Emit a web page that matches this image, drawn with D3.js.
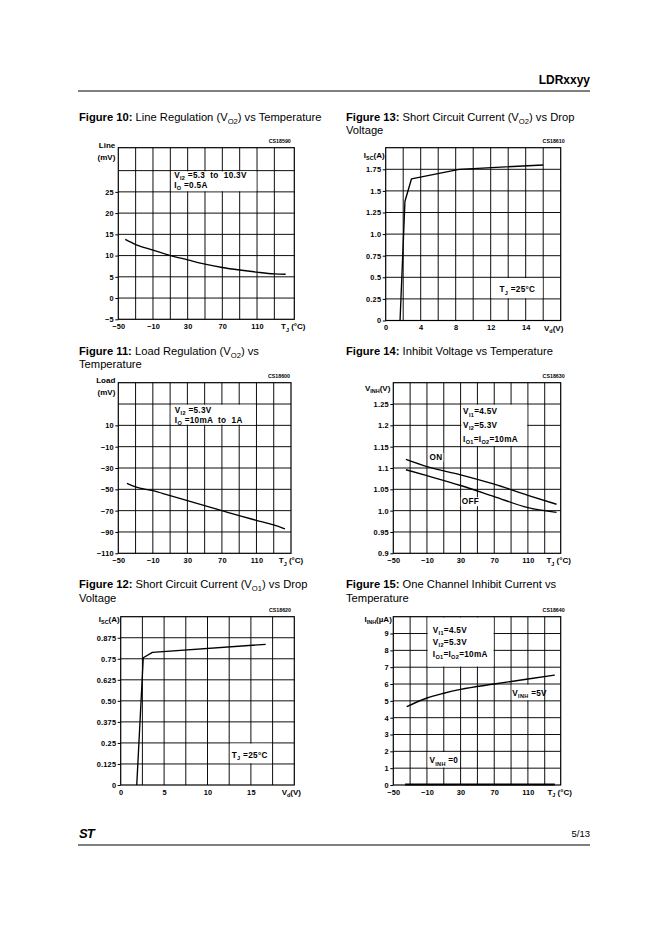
<!DOCTYPE html>
<html>
<head>
<meta charset="utf-8">
<script src="https://cdn.jsdelivr.net/npm/d3@7.9.0/dist/d3.min.js"></script>
<style>
  body { margin: 0; background: #fff; }
  svg text { font-family: "Liberation Sans", Arial, Helvetica, sans-serif; fill: #000; white-space: pre; }
</style>
</head>
<body>
<svg id="page" width="662" height="936"></svg>
<script>
// ---------------------------------------------------------
// Data
// ---------------------------------------------------------
const tempTicks = [-50, -10, 30, 70, 110];
const tempLabels = ["\u221250", "\u221210", "30", "70", "110"];

// Figure 10: line regulation (mV) vs Tj
const fig10Temp = [-42, -30, -10, 10, 30, 50, 70, 90, 110, 130, 143];
const fig10Line = [13.8, 12.6, 11.3, 10.0, 9.0, 8.0, 7.2, 6.6, 6.1, 5.7, 5.6];
const fig10YTicks = [-5, 0, 5, 10, 15, 20, 25];
const fig10YLabels = ["\u22125", "0", "5", "10", "15", "20", "25"];

// Figure 11: load regulation (mV) vs Tj
const fig11Temp = [-40, -30, -10, 10, 30, 50, 70, 90, 110, 130, 143];
const fig11Load = [-44.4, -47.8, -51.3, -56.0, -60.6, -65.3, -70.0, -74.7, -79.1, -83.4, -87.2];
const fig11YTicks = [-110, -90, -70, -50, -30, -10, 10];
const fig11YLabels = ["\u2212110", "\u221290", "\u221270", "\u221250", "\u221230", "\u221210", "10"];

// Figure 12: short circuit current VO1 vs drop voltage
const fig12Vd = [1.85, 2.6, 3.65, 16.7];
const fig12Isc = [0, 0.756, 0.788, 0.836];
const fig12XTicks = [0, 5, 10, 15];
const fig12XLabels = ["0", "5", "10", "15"];
const fig12YTicks = [0, 0.125, 0.25, 0.375, 0.5, 0.625, 0.75, 0.875];
const fig12YLabels = ["0", "0.125", "0.25", "0.375", "0.50", "0.625", "0.75", "0.875"];

// Figure 13: short circuit current VO2 vs drop voltage
const fig13Vd = [1.64, 2.2, 2.95, 8.4, 18];
const fig13Isc = [0, 1.38, 1.64, 1.75, 1.8];
const fig13XTicks = [0, 4, 8, 12, 16];
const fig13XLabels = ["0", "4", "8", "12", "14"];
const fig13YTicks = [0, 0.25, 0.5, 0.75, 1.0, 1.25, 1.5, 1.75];
const fig13YLabels = ["0", "0.25", "0.5", "0.75", "1.0", "1.25", "1.5", "1.75"];

// Figure 14: inhibit voltage vs Tj
const fig14Temp = [-35, -10, 30, 70, 110, 144];
const fig14On = [1.12, 1.103, 1.084, 1.062, 1.036, 1.015];
const fig14Off = [1.096, 1.082, 1.059, 1.033, 1.007, 0.996];
const fig14YTicks = [0.9, 0.95, 1.0, 1.05, 1.1, 1.15, 1.2, 1.25];
const fig14YLabels = ["0.9", "0.95", "1.0", "1.05", "1.1", "1.15", "1.2", "1.25"];

// Figure 15: one channel inhibit current vs Tj
const fig15Temp = [-34, -10, 10, 30, 70, 110, 142];
const fig15Iinh5V = [4.65, 5.17, 5.45, 5.68, 6.0, 6.3, 6.53];
const fig15Temp0 = [-36, 142];
const fig15Iinh0V = [0.03, 0.03];
const fig15YTicks = [0, 1, 2, 3, 4, 5, 6, 7, 8, 9];
const fig15YLabels = ["0", "1", "2", "3", "4", "5", "6", "7", "8", "9"];

// ---------------------------------------------------------
// Helpers
// ---------------------------------------------------------
const svg = d3.select('#page');
const TICK_FS = 7.4;
const NOTE_FS = 8.2;
const UNIT_FS = 8;
const TITLE_FS = 11.2;

// "V_{I2} =5.3V" -> tspans with subscripts
function rich(sel, str, fs) {
  const parts = str.split(/(_\{[^}]*\})/);
  let down = false;
  parts.forEach(p => {
    if (!p) return;
    if (p.startsWith('_{')) {
      sel.append('tspan').attr('dy', fs * 0.28).attr('font-size', fs * 0.68).text(p.slice(2, -1));
      down = true;
    } else {
      const t = sel.append('tspan').text(p);
      if (down) { t.attr('dy', -fs * 0.28); down = false; }
    }
  });
  return sel;
}

function title(x, y, bold, lines) {
  const t = svg.append('text').attr('x', x).attr('y', y).attr('font-size', TITLE_FS);
  t.append('tspan').attr('font-weight', 'bold').text(bold);
  rich(t, lines[0], TITLE_FS);
  lines.slice(1).forEach((l, i) => {
    rich(svg.append('text').attr('x', x).attr('y', y + 13.5 * (i + 1)).attr('font-size', TITLE_FS), l, TITLE_FS);
  });
}

// ---------------------------------------------------------
// One chart
// ---------------------------------------------------------
function drawChart(c) {
  const [x0, x1, y0, y1] = c.frame;
  const x = d3.scaleLinear().domain(c.xDomain).range([x0, x1]);
  const y = d3.scaleLinear().domain(c.yDomain).range([y1, y0]);
  const g = svg.append('g');

  // grid
  const gx = d3.range(c.xGrid[0], c.xGrid[1] + 1e-6, c.xGrid[2]);
  const gy = d3.range(c.yGrid[0], c.yGrid[1] + 1e-6, c.yGrid[2]);
  g.append('g').selectAll('line').data(gx).join('line')
    .attr('x1', d => x(d)).attr('x2', d => x(d)).attr('y1', y0).attr('y2', y1)
    .attr('stroke', '#000').attr('stroke-width', 0.95);
  g.append('g').selectAll('line').data(gy).join('line')
    .attr('y1', d => y(d)).attr('y2', d => y(d)).attr('x1', x0).attr('x2', x1)
    .attr('stroke', '#000').attr('stroke-width', 0.95);

  // white boxes behind the notes
  c.notes.filter(n => n.box).forEach(n => {
    const [a, b, lo, hi] = n.box;
    g.append('rect')
      .attr('x', x(a) + 0.7).attr('y', y(hi) + 0.7)
      .attr('width', x(b) - x(a) - 1.4).attr('height', y(lo) - y(hi) - 1.4)
      .attr('fill', '#fff');
  });

  g.append('rect').attr('x', x0).attr('y', y0).attr('width', x1 - x0).attr('height', y1 - y0)
    .attr('fill', 'none').attr('stroke', '#000').attr('stroke-width', 1.2);

  // axes
  const ya = g.append('g').attr('transform', `translate(${x0},0)`)
    .call(d3.axisLeft(y).tickValues(c.yTicks).tickFormat((d, i) => c.yLabels[i]).tickSize(3).tickPadding(1.5));
  const xa = g.append('g').attr('transform', `translate(0,${y1})`)
    .call(d3.axisBottom(x).tickValues(c.xTicks).tickFormat((d, i) => c.xLabels[i]).tickSize(0).tickPadding(4.5));
  [ya, xa].forEach(a => {
    a.select('.domain').remove();
    a.selectAll('line').attr('stroke', '#000');
    a.selectAll('text').attr('font-size', TICK_FS).attr('font-weight', 'bold')
      .attr('letter-spacing', 0.2)
      .attr('font-family', '"Liberation Sans", Arial, sans-serif').attr('fill', '#000');
  });

  // unit labels
  rich(g.append('text').attr('x', x1 + c.xUnit.dx).attr('y', y1 + 10)
    .attr('text-anchor', 'middle').attr('font-size', UNIT_FS).attr('font-weight', 'bold'), c.xUnit.text, UNIT_FS);
  c.yUnit.lines.forEach((l, i) => {
    rich(g.append('text').attr('x', x0 + c.yUnit.dx).attr('y', y0 + c.yUnit.dy + i * 11.8)
      .attr('text-anchor', 'end').attr('font-size', UNIT_FS).attr('font-weight', 'bold'), l, UNIT_FS);
  });

  // drawing code
  g.append('text').attr('x', x1 + c.codeDx).attr('y', y0 - 4.5).attr('text-anchor', 'end')
    .attr('font-size', 5.3).attr('font-weight', 'bold').text(c.code);

  // curves
  c.series.forEach(s => {
    const pts = s.x.map((v, i) => [v, s.y[i]]);
    g.append('path').datum(pts)
      .attr('d', d3.line().x(d => x(d[0])).y(d => y(d[1])).curve(s.curve || d3.curveLinear))
      .attr('fill', 'none').attr('stroke', '#000').attr('stroke-width', s.w || 1.35)
      .attr('stroke-linejoin', 'round');
  });

  // notes
  c.notes.forEach(n => {
    n.lines.forEach((l, i) => {
      const t = g.append('text').attr('x', x(n.x)).attr('y', y(n.y) + i * n.lh)
        .attr('font-size', NOTE_FS).attr('font-weight', 'bold').attr('letter-spacing', 0.3);
      rich(t, l, NOTE_FS);
      if (n.halo) {
        const bb = t.node().getBBox();
        g.insert('rect', () => t.node()).attr('x', bb.x - 1).attr('y', bb.y)
          .attr('width', bb.width + 2).attr('height', bb.height).attr('fill', '#fff');
      }
    });
  });
}

// ---------------------------------------------------------
// Page
// ---------------------------------------------------------
svg.append('text').attr('x', 590).attr('y', 83.5).attr('text-anchor', 'end')
  .attr('font-size', 12).attr('font-weight', 'bold').text('LDRxxyy');
svg.append('line').attr('x1', 78).attr('x2', 590).attr('y1', 91).attr('y2', 91)
  .attr('stroke', '#000').attr('stroke-width', 1);
svg.append('text').attr('x', 79).attr('y', 838).attr('font-size', 13).attr('font-weight', 'bold')
  .attr('font-style', 'italic').attr('letter-spacing', -1).text('ST');
svg.append('text').attr('x', 590).attr('y', 837).attr('text-anchor', 'end')
  .attr('font-size', 9.5).text('5/13');
svg.append('line').attr('x1', 78).attr('x2', 590).attr('y1', 845).attr('y2', 845)
  .attr('stroke', '#000').attr('stroke-width', 1);

title(79, 120.5, 'Figure 10:', [' Line Regulation (V_{O2}) vs Temperature']);
title(346, 120.5, 'Figure 13:', [' Short Circuit Current (V_{O2}) vs Drop', 'Voltage']);
title(79, 354.5, 'Figure 11:', [' Load Regulation (V_{O2}) vs', 'Temperature']);
title(346, 354.5, 'Figure 14:', [' Inhibit Voltage vs Temperature']);
title(79, 588, 'Figure 12:', [' Short Circuit Current (V_{O1}) vs Drop', 'Voltage']);
title(346, 588, 'Figure 15:', [' One Channel Inhibit Current vs', 'Temperature']);

const tjUnit = 'T_{J} (\u00b0C)';

drawChart({
  code: 'CS18590', codeDx: -3.5,
  frame: [118.3, 294.3, 147.7, 319.3], xDomain: [-50, 153], yDomain: [-5, 35.4],
  xGrid: [-30, 130, 20], yGrid: [0, 30, 5],
  xTicks: tempTicks, xLabels: tempLabels, yTicks: fig10YTicks, yLabels: fig10YLabels,
  xUnit: { text: tjUnit, dx: -1 }, yUnit: { lines: ['Line', '(mV)'], dx: -3, dy: 0.5 },
  series: [{ x: fig10Temp, y: fig10Line, curve: d3.curveMonotoneX }],
  notes: [{ x: 14.5, y: 28.3, lh: 10, lines: ['V_{I2} =5.3  to  10.3V', 'I_{O} =0.5A'], box: [10, 110, 25, 30] }]
});

drawChart({
  code: 'CS18600', codeDx: -1,
  frame: [118.3, 291, 382.7, 553.3], xDomain: [-50, 150], yDomain: [-110, 50],
  xGrid: [-30, 130, 20], yGrid: [-90, 30, 20],
  xTicks: tempTicks, xLabels: tempLabels, yTicks: fig11YTicks, yLabels: fig11YLabels,
  xUnit: { text: tjUnit, dx: 0 }, yUnit: { lines: ['Load', '(mV)'], dx: -3, dy: 0 },
  series: [{ x: fig11Temp, y: fig11Load, curve: d3.curveMonotoneX }],
  notes: [{ x: 15.5, y: 22, lh: 10, lines: ['V_{I2} =5.3V', 'I_{O} =10mA  to  1A'], box: [10, 110, 10, 30] }]
});

drawChart({
  code: 'CS18610', codeDx: 4,
  frame: [385.7, 560.7, 147.7, 320.5], xDomain: [0, 20], yDomain: [0, 2],
  xGrid: [2, 18, 2], yGrid: [0.25, 1.75, 0.25],
  xTicks: fig13XTicks, xLabels: fig13XLabels, yTicks: fig13YTicks, yLabels: fig13YLabels,
  xUnit: { text: 'V_{d}(V)', dx: -7 }, yUnit: { lines: ['I_{SC}(A)'], dx: -1, dy: 10 },
  series: [{ x: fig13Vd, y: fig13Isc }],
  notes: [{ x: 13, y: 0.325, lh: 10, lines: ['T_{J} =25\u00b0C'], box: [12, 18, 0.25, 0.5] }]
});

drawChart({
  code: 'CS18630', codeDx: 4,
  frame: [393.3, 560.7, 382.7, 553.3], xDomain: [-50, 149], yDomain: [0.9, 1.3],
  xGrid: [-30, 130, 20], yGrid: [0.95, 1.25, 0.05],
  xTicks: tempTicks, xLabels: tempLabels, yTicks: fig14YTicks, yLabels: fig14YLabels,
  xUnit: { text: tjUnit, dx: -2 }, yUnit: { lines: ['V_{INH}(V)'], dx: -3, dy: 8 },
  series: [{ x: fig14Temp, y: fig14On, curve: d3.curveMonotoneX },
           { x: fig14Temp, y: fig14Off, curve: d3.curveMonotoneX }],
  notes: [
    { x: 33, y: 1.226, lh: 13.8, lines: ['V_{I1}=4.5V', 'V_{I2}=5.3V', 'I_{O1}=I_{O2}=10mA'], box: [30, 110, 1.15, 1.25] },
    { x: -7, y: 1.119, lh: 10, lines: ['ON'], halo: true },
    { x: 31.5, y: 1.015, lh: 10, lines: ['OFF'], halo: true }
  ]
});

drawChart({
  code: 'CS18620', codeDx: -3.3,
  frame: [120.7, 294.3, 616.7, 785], xDomain: [0, 20], yDomain: [0, 1],
  xGrid: [2.5, 17.5, 2.5], yGrid: [0.125, 0.875, 0.125],
  xTicks: fig12XTicks, xLabels: fig12XLabels, yTicks: fig12YTicks, yLabels: fig12YLabels,
  xUnit: { text: 'V_{d}(V)', dx: -3 }, yUnit: { lines: ['I_{SC}(A)'], dx: -1, dy: 5.5 },
  series: [{ x: fig12Vd, y: fig12Isc }],
  notes: [{ x: 12.8, y: 0.163, lh: 10, lines: ['T_{J} =25\u00b0C'], box: [12.5, 17.5, 0.125, 0.25] }]
});

drawChart({
  code: 'CS18640', codeDx: 4,
  frame: [393.3, 560.7, 616.7, 785], xDomain: [-50, 149], yDomain: [0, 10],
  xGrid: [-30, 130, 20], yGrid: [1, 9, 1],
  xTicks: tempTicks, xLabels: tempLabels, yTicks: fig15YTicks, yLabels: fig15YLabels,
  xUnit: { text: tjUnit, dx: -1 }, yUnit: { lines: ['I_{INH}(\u00b5A)'], dx: -1.5, dy: 5 },
  series: [{ x: fig15Temp, y: fig15Iinh5V, curve: d3.curveMonotoneX },
           { x: fig15Temp0, y: fig15Iinh0V, w: 2 }],
  notes: [
    { x: -3, y: 9.06, lh: 12.3, lines: ['V_{I1}=4.5V', 'V_{I2}=5.3V', 'I_{O1}=I_{O2}=10mA'], box: [-10, 70, 7, 10] },
    { x: 91.5, y: 5.3, lh: 10, lines: ['V_{INH} =5V'], box: [90, 130, 5, 6] },
    { x: -7, y: 1.28, lh: 10, lines: ['V_{INH} =0'], box: [-10, 30, 1, 2] }
  ]
});
</script>
</body>
</html>
